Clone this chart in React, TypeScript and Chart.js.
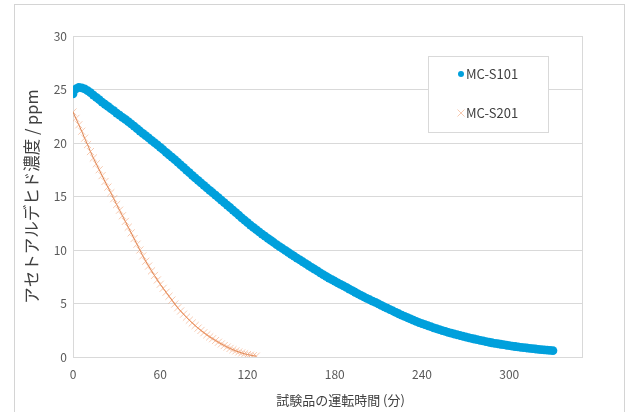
import React, { useEffect, useRef } from "react";
import { Chart, registerables } from "chart.js";

Chart.register(...registerables);

// Sampling interval of the logged data (minutes)
const SAMPLE_STEP_MIN = 2;

const seriesNames = ["MC-S101", "MC-S201"];

// MC-S101 concentration (ppm), one value per sampling step from t = 0
const s101Values = [
  24.6, 25.05, 25.2, 25.15, 25.05, 24.9, 24.7, 24.48, 24.27, 24.05,
  23.82, 23.62, 23.42, 23.2, 23.02, 22.8, 22.6, 22.4, 22.2, 22.0,
  21.78, 21.57, 21.35, 21.12, 20.9, 20.68, 20.47, 20.25, 20.04, 19.82,
  19.6, 19.37, 19.13, 18.9, 18.67, 18.44, 18.2, 17.96, 17.72, 17.47,
  17.23, 16.98, 16.74, 16.51, 16.27, 16.04, 15.81, 15.58, 15.35, 15.12,
  14.89, 14.66, 14.43, 14.2, 13.97, 13.73, 13.49, 13.25, 13.01, 12.78,
  12.55, 12.33, 12.11, 11.9, 11.69, 11.49, 11.29, 11.09, 10.89, 10.7,
  10.51, 10.32, 10.14, 9.96, 9.78, 9.6, 9.42, 9.24, 9.07, 8.9,
  8.72, 8.55, 8.38, 8.21, 8.04, 7.87, 7.7, 7.53, 7.38, 7.23,
  7.08, 6.93, 6.79, 6.65, 6.5, 6.35, 6.2, 6.05, 5.9, 5.76,
  5.62, 5.48, 5.35, 5.22, 5.1, 4.96, 4.83, 4.69, 4.56, 4.43,
  4.3, 4.17, 4.04, 3.91, 3.79, 3.67, 3.56, 3.44, 3.33, 3.22,
  3.12, 3.02, 2.92, 2.83, 2.73, 2.64, 2.55, 2.47, 2.39, 2.31,
  2.23, 2.15, 2.08, 2.01, 1.94, 1.87, 1.8, 1.74, 1.68, 1.62,
  1.56, 1.5, 1.44, 1.38, 1.33, 1.28, 1.24, 1.19, 1.15, 1.1,
  1.06, 1.02, 0.98, 0.94, 0.9, 0.87, 0.84, 0.81, 0.78, 0.75,
  0.72, 0.69, 0.67, 0.64, 0.62, 0.59,
];

// MC-S201 concentration (ppm), one value per sampling step from t = 0
const s201Values = [
  22.9, 22.3, 21.7, 21.1, 20.45, 19.85, 19.2, 18.6, 18.05, 17.5,
  16.95, 16.4, 15.88, 15.35, 14.8, 14.25, 13.72, 13.2, 12.67, 12.13,
  11.6, 11.07, 10.54, 10.0, 9.45, 8.95, 8.5, 8.05, 7.62, 7.2,
  6.8, 6.42, 6.05, 5.68, 5.32, 4.95, 4.6, 4.3, 4.0, 3.72,
  3.44, 3.18, 2.94, 2.7, 2.48, 2.27, 2.07, 1.88, 1.71, 1.54,
  1.38, 1.22, 1.07, 0.93, 0.8, 0.68, 0.57, 0.47, 0.38, 0.3,
  0.23, 0.17, 0.12, 0.08,
];

const xTickValues = [0, 60, 120, 180, 240, 300];
const yTickValues = [0, 5, 10, 15, 20, 25, 30];
const xAxisMax = 350;
const xTitle = "試験品の運転時間 (分)";
const yTitle = "アセトアルデヒド濃度 / ppm";

const BLUE = "#00a0dc";
const ORANGE_LIGHT = "rgba(240,150,100,0.5)";
const ORANGE_LINE = "rgba(214,110,50,0.85)";
const FONT = '"Noto Sans CJK JP", "Noto Sans", sans-serif';

const toPoints = (vals: number[]) =>
  vals.map((v, i) => ({ x: i * SAMPLE_STEP_MIN, y: v }));

const framePlugin = {
  id: "plotFrame",
  beforeDatasetsDraw(chart: any) {
    const { ctx, chartArea } = chart;
    ctx.save();
    ctx.strokeStyle = "#d9d9d9";
    ctx.lineWidth = 1;
    ctx.strokeRect(
      Math.round(chartArea.left) + 0.5,
      Math.round(chartArea.top) + 0.5,
      Math.round(chartArea.right - chartArea.left),
      Math.round(chartArea.bottom - chartArea.top)
    );
    ctx.restore();
  },
};

const xTitlePlugin = {
  id: "xTitleText",
  afterDraw(chart: any) {
    const { ctx, chartArea } = chart;
    ctx.save();
    ctx.fillStyle = "#404040";
    ctx.font = `13px ${FONT}`;
    ctx.textAlign = "center";
    ctx.textBaseline = "middle";
    ctx.fillText(xTitle, (chartArea.left + chartArea.right) / 2 + 13, chartArea.bottom + 43);
    ctx.restore();
  },
};

const boxLegendPlugin = {
  id: "boxLegend",
  afterDraw(chart: any) {
    const { ctx, chartArea } = chart;
    const w = 120;
    const h = 76;
    const x = Math.round(chartArea.right - 34 - w);
    const y = Math.round(chartArea.top + 20);
    ctx.save();
    ctx.fillStyle = "#ffffff";
    ctx.fillRect(x, y, w, h);
    ctx.strokeStyle = "#d9d9d9";
    ctx.lineWidth = 1;
    ctx.strokeRect(x + 0.5, y + 0.5, w, h);
    chart.data.datasets.forEach((ds: any, i: number) => {
      const cy = y + 18 + i * 39;
      const mx = x + 33;
      if (ds.pointStyle === "circle") {
        ctx.fillStyle = BLUE;
        ctx.beginPath();
        ctx.arc(mx, cy, 3, 0, Math.PI * 2);
        ctx.fill();
      } else {
        ctx.strokeStyle = ORANGE_LIGHT;
        ctx.lineWidth = 1;
        ctx.beginPath();
        ctx.moveTo(mx - 3.5, cy - 3.5);
        ctx.lineTo(mx + 3.5, cy + 3.5);
        ctx.moveTo(mx + 3.5, cy - 3.5);
        ctx.lineTo(mx - 3.5, cy + 3.5);
        ctx.stroke();
      }
      ctx.fillStyle = "#404040";
      ctx.font = `13px ${FONT}`;
      ctx.textBaseline = "middle";
      ctx.textAlign = "left";
      ctx.fillText(ds.label, mx + 5, cy);
    });
    ctx.restore();
  },
};

export default function App() {
  const canvasRef = useRef<HTMLCanvasElement | null>(null);

  useEffect(() => {
    if (!canvasRef.current) return;
    const chart = new Chart(canvasRef.current, {
      type: "scatter",
      data: {
        datasets: [
          {
            label: seriesNames[0],
            data: toPoints(s101Values),
            pointStyle: "circle",
            pointRadius: 4.4,
            pointBackgroundColor: BLUE,
            pointBorderWidth: 0,
            backgroundColor: BLUE,
            borderColor: BLUE,
            showLine: false,
          },
          {
            label: seriesNames[1],
            data: toPoints(s201Values),
            pointStyle: "crossRot",
            pointRadius: 5,
            pointBorderWidth: 1,
            pointBorderColor: ORANGE_LIGHT,
            backgroundColor: ORANGE_LIGHT,
            borderColor: ORANGE_LINE,
            borderWidth: 1,
            showLine: true,
          },
        ],
      },
      options: {
        animation: false,
        responsive: false,
        maintainAspectRatio: false,
        layout: { padding: { left: 0, right: 46, top: 36, bottom: 0 } },
        plugins: {
          legend: { display: false },
          tooltip: { enabled: false },
        },
        scales: {
          x: {
            type: "linear",
            min: 0,
            max: xAxisMax,
            afterBuildTicks: (scale: any) => {
              scale.ticks = xTickValues.map((v) => ({ value: v }));
            },
            afterFit: (scale: any) => {
              scale.height = 55;
            },
            grid: { display: false, drawTicks: false },
            border: { display: true, color: "#d0d0d0" },
            ticks: {
              color: "#595959",
              font: { family: FONT, size: 12 },
              padding: 10,
              maxRotation: 0,
            },
            title: { display: false },
          },
          y: {
            type: "linear",
            min: 0,
            max: 30,
            afterBuildTicks: (scale: any) => {
              scale.ticks = yTickValues.map((v) => ({ value: v }));
            },
            afterFit: (scale: any) => {
              scale.width = 73;
            },
            grid: { color: "#d9d9d9", lineWidth: 1, drawTicks: false },
            border: { display: false },
            ticks: {
              color: "#595959",
              font: { family: FONT, size: 12 },
              padding: 6,
            },
            title: {
              display: true,
              text: yTitle,
              color: "#404040",
              font: { family: FONT, size: 16.5 },
              padding: { top: 22, bottom: 0 },
            },
          },
        },
      },
      plugins: [framePlugin, xTitlePlugin, boxLegendPlugin],
    } as any);
    return () => chart.destroy();
  }, []);

  return (
    <div
      style={{
        position: "fixed",
        left: 0,
        top: 0,
        width: 628,
        height: 412,
        background: "#ffffff",
        overflow: "hidden",
      }}
    >
      <div
        style={{
          position: "absolute",
          left: 14,
          top: 4,
          width: 611,
          height: 430,
          border: "1px solid #d4d4d4",
          boxSizing: "border-box",
        }}
      />
      <canvas
        ref={canvasRef}
        width={628}
        height={412}
        style={{ position: "absolute", left: 0, top: 0 }}
      />
    </div>
  );
}
